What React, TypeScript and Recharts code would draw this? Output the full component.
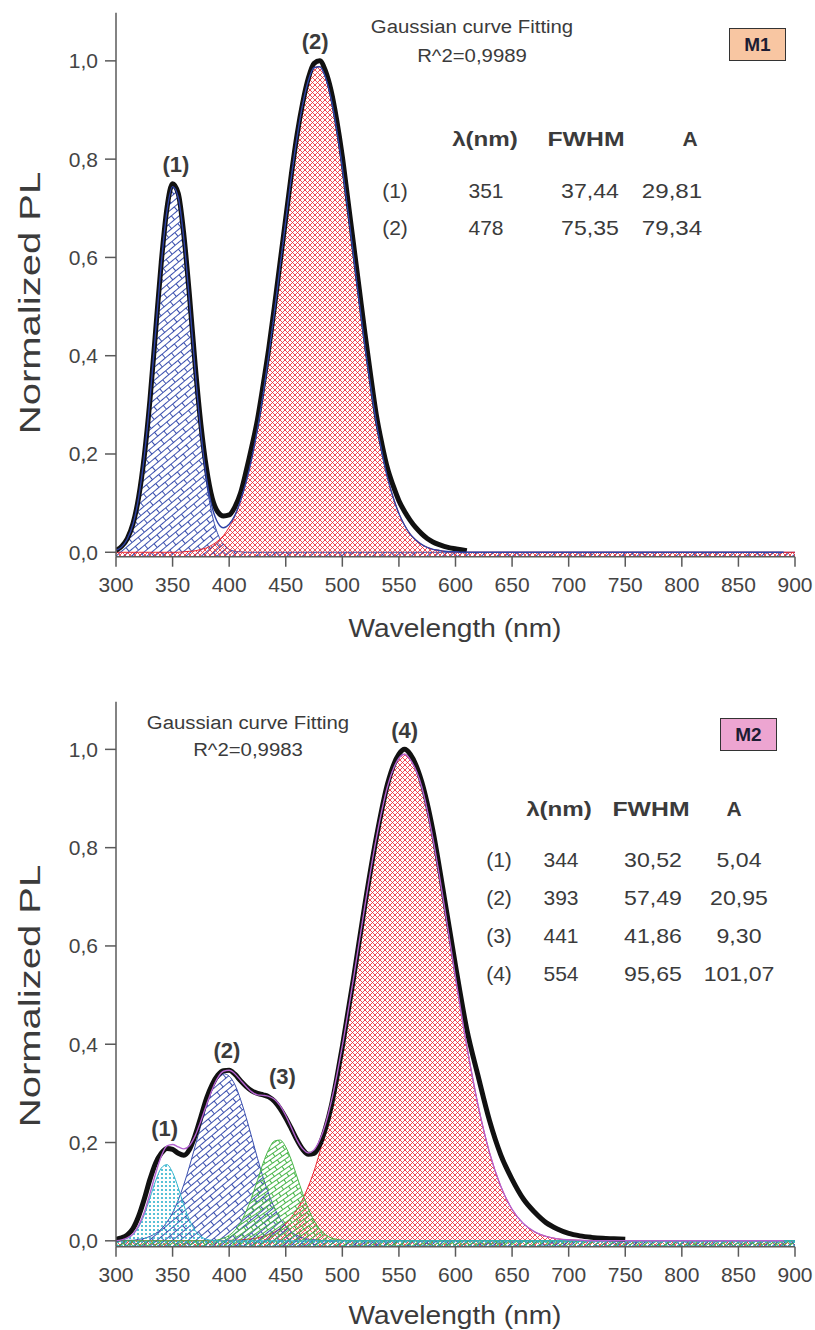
import { ComposedChart, Area, Line, XAxis, YAxis, ReferenceDot } from 'recharts';

const FONT = '"Liberation Sans", Arial, Helvetica, sans-serif';
const INK = '#3b3b3b';
const AXIS = '#5a5a5a';

// ── shared axes ───────────────────────────────────────────────────────────────

const X_TICKS = [300, 350, 400, 450, 500, 550, 600, 650, 700, 750, 800, 850, 900];
const Y_TICKS = [0, 0.2, 0.4, 0.6, 0.8, 1.0];

// ── M1 data ───────────────────────────────────────────────────────────────────

const WL_TOP = [
  300, 305, 310, 315, 320, 325, 330, 335, 340, 345, 350, 355, 360, 365, 370, 375, 380, 385, 390, 395,
  400, 405, 410, 415, 420, 425, 430, 435, 440, 445, 450, 455, 460, 465, 470, 475, 480, 485, 490, 495,
  500, 505, 510, 515, 520, 525, 530, 535, 540, 545, 550, 555, 560, 565, 570, 575, 580, 585, 590, 595,
  600, 605, 610, 615, 620, 650, 700, 750, 800, 850, 890, 900,
];
// peak (1), blue
const P1_TOP = [
  0.004, 0.011, 0.027, 0.057, 0.111, 0.196, 0.311, 0.449, 0.587, 0.694, 0.744, 0.722, 0.635, 0.506, 0.365, 0.238, 0.141, 0.076, 0.037, 0.016,
  0.006, 0.002, 0.001, 0, 0, 0, 0, 0, 0, 0, 0, 0, 0, 0, 0, 0, 0, 0, 0, 0,
  0, 0, 0, 0, 0, 0, 0, 0, 0, 0, 0, 0, 0, 0, 0, 0, 0, 0, 0, 0,
  0, 0, 0, 0, 0, 0, 0, 0, 0, 0, 0, 0,
];
// peak (2), red
const P2_TOP = [
  0, 0, 0, 0, 0, 0, 0, 0, 0, 0, 0, 0, 0.001, 0.002, 0.003, 0.006, 0.009, 0.015, 0.023, 0.034,
  0.051, 0.073, 0.104, 0.143, 0.191, 0.251, 0.321, 0.401, 0.489, 0.582, 0.675, 0.765, 0.845, 0.912, 0.96, 0.986, 0.988, 0.967, 0.923, 0.86,
  0.782, 0.693, 0.601, 0.507, 0.418, 0.337, 0.264, 0.203, 0.151, 0.111, 0.079, 0.055, 0.037, 0.025, 0.016, 0.01, 0.006, 0.004, 0.002, 0.001,
  0.001, 0, 0, 0, 0, 0, 0, 0, 0, 0, 0, 0,
];
// cumulative fit, thin blue
const FIT_TOP = [
  0.004, 0.011, 0.027, 0.057, 0.111, 0.196, 0.311, 0.449, 0.587, 0.694, 0.744, 0.722, 0.636, 0.508, 0.368, 0.244, 0.15, 0.091, 0.06, 0.05,
  0.057, 0.075, 0.105, 0.143, 0.191, 0.251, 0.321, 0.401, 0.489, 0.582, 0.675, 0.765, 0.845, 0.912, 0.96, 0.986, 0.988, 0.967, 0.923, 0.86,
  0.782, 0.693, 0.601, 0.507, 0.418, 0.337, 0.264, 0.203, 0.151, 0.111, 0.079, 0.055, 0.037, 0.025, 0.016, 0.01, 0.006, 0.004, 0.002, 0.001,
  0.001, 0, 0, 0, 0, 0, 0, 0, 0, 0, 0, null,
];
// measured spectrum, thick black
const DATA_TOP = [
  0.004, 0.012, 0.028, 0.058, 0.112, 0.196, 0.31, 0.45, 0.59, 0.7, 0.75, 0.73, 0.645, 0.52, 0.38, 0.26, 0.17, 0.11, 0.082, 0.074,
  0.076, 0.092, 0.12, 0.165, 0.215, 0.27, 0.34, 0.415, 0.5, 0.59, 0.68, 0.77, 0.85, 0.915, 0.965, 0.995, 1.0, 0.98, 0.94, 0.88,
  0.805, 0.715, 0.625, 0.535, 0.445, 0.36, 0.28, 0.22, 0.17, 0.135, 0.105, 0.083, 0.065, 0.05, 0.038, 0.028, 0.021, 0.016, 0.012, 0.009,
  0.007, 0.005, 0.003, null, null, null, null, null, null, null, null, null,
];

// ── M2 data ───────────────────────────────────────────────────────────────────

const WL_BOT = [
  300, 305, 310, 315, 320, 325, 330, 335, 340, 345, 350, 355, 360, 365, 370, 375, 380, 385, 390, 395,
  400, 405, 410, 415, 420, 425, 430, 435, 440, 445, 450, 455, 460, 465, 470, 475, 480, 485, 490, 495,
  500, 510, 520, 530, 540, 550, 555, 560, 570, 580, 590, 600, 610, 620, 630, 640, 650, 660, 670, 680, 690,
  700, 710, 720, 730, 740, 750, 760, 800, 850, 890, 900,
];
// peak (1), cyan dots
const C1_BOT = [
  0, 0.002, 0.005, 0.013, 0.028, 0.053, 0.087, 0.122, 0.148, 0.155, 0.139, 0.108, 0.072, 0.042, 0.021, 0.009, 0.003, 0.001, 0, 0,
  0, 0, 0, 0, 0, 0, 0, 0, 0, 0, 0, 0, 0, 0, 0, 0, 0, 0, 0, 0,
  0, 0, 0, 0, 0, 0, 0, 0, 0, 0, 0, 0, 0, 0, 0, 0, 0, 0, 0, 0, 0,
  0, 0, 0, 0, 0, 0, 0, 0, 0, 0, 0,
];
// peak (2), blue bricks
const C2_BOT = [
  0, 0, 0.001, 0.001, 0.003, 0.005, 0.009, 0.015, 0.024, 0.038, 0.057, 0.083, 0.115, 0.152, 0.193, 0.235, 0.274, 0.307, 0.33, 0.34,
  0.335, 0.318, 0.288, 0.251, 0.21, 0.168, 0.129, 0.095, 0.067, 0.045, 0.029, 0.018, 0.011, 0.006, 0.003, 0.002, 0.001, 0, 0, 0,
  0, 0, 0, 0, 0, 0, 0, 0, 0, 0, 0, 0, 0, 0, 0, 0, 0, 0, 0, 0, 0,
  0, 0, 0, 0, 0, 0, 0, 0, 0, 0, 0,
];
// peak (3), green
const C3_BOT = [
  0, 0, 0, 0, 0, 0, 0, 0, 0, 0, 0, 0, 0, 0, 0, 0, 0, 0, 0.002, 0.005,
  0.011, 0.021, 0.037, 0.06, 0.089, 0.123, 0.158, 0.186, 0.203, 0.205, 0.191, 0.164, 0.13, 0.096, 0.065, 0.041, 0.024, 0.013, 0.006, 0.003,
  0.001, 0, 0, 0, 0, 0, 0, 0, 0, 0, 0, 0, 0, 0, 0, 0, 0, 0, 0, 0, 0,
  0, 0, 0, 0, 0, 0, 0, 0, 0, 0, 0,
];
// peak (4), red
const C4_BOT = [
  0, 0, 0, 0, 0, 0, 0, 0, 0, 0, 0, 0, 0, 0, 0, 0, 0, 0, 0, 0,
  0.001, 0.001, 0.002, 0.003, 0.004, 0.006, 0.009, 0.013, 0.018, 0.025, 0.035, 0.048, 0.064, 0.085, 0.111, 0.142, 0.18, 0.224, 0.275, 0.332,
  0.396, 0.536, 0.683, 0.819, 0.925, 0.982, 0.99, 0.979, 0.925, 0.819, 0.683, 0.536, 0.396, 0.275, 0.18, 0.111, 0.064, 0.035, 0.018, 0.009, 0.004,
  0.002, 0.001, 0, 0, 0, 0, 0, 0, 0, 0, 0,
];
// cumulative fit, thin purple
const FIT_BOT = [
  0, 0.002, 0.006, 0.014, 0.031, 0.058, 0.096, 0.137, 0.172, 0.193, 0.196, 0.191, 0.187, 0.194, 0.214, 0.244, 0.277, 0.308, 0.332, 0.345,
  0.347, 0.34, 0.327, 0.314, 0.303, 0.297, 0.296, 0.294, 0.288, 0.275, 0.255, 0.23, 0.205, 0.187, 0.179, 0.185, 0.205, 0.237, 0.281, 0.335,
  0.397, 0.536, 0.683, 0.819, 0.925, 0.982, 0.99, 0.979, 0.925, 0.819, 0.683, 0.536, 0.396, 0.275, 0.18, 0.111, 0.064, 0.035, 0.018, 0.009, 0.004,
  0.002, 0.001, 0, 0, 0, 0, 0, 0, 0, 0, null,
];
// measured spectrum, thick black
const DATA_BOT = [
  0.003, 0.006, 0.012, 0.025, 0.05, 0.085, 0.125, 0.158, 0.178, 0.188, 0.186, 0.178, 0.174, 0.186, 0.215, 0.252, 0.29, 0.318, 0.337, 0.346,
  0.347, 0.339, 0.326, 0.314, 0.305, 0.3, 0.297, 0.293, 0.284, 0.269, 0.25, 0.228, 0.205, 0.186, 0.176, 0.178, 0.195, 0.228, 0.272, 0.33,
  0.395, 0.536, 0.685, 0.82, 0.93, 0.99, 1.0, 0.99, 0.935, 0.835, 0.7, 0.56, 0.43, 0.335, 0.245, 0.175, 0.125, 0.085, 0.058, 0.037, 0.024,
  0.015, 0.01, 0.007, 0.005, 0.004, 0.003, null, null, null, null, null,
];

// ── fit tables ────────────────────────────────────────────────────────────────

const TOP_ROWS = [
  { id: '(1)', lambda: '351', fwhm: '37,44', area: '29,81' },
  { id: '(2)', lambda: '478', fwhm: '75,35', area: '79,34' },
];
const BOT_ROWS = [
  { id: '(1)', lambda: '344', fwhm: '30,52', area: '5,04' },
  { id: '(2)', lambda: '393', fwhm: '57,49', area: '20,95' },
  { id: '(3)', lambda: '441', fwhm: '41,86', area: '9,30' },
  { id: '(4)', lambda: '554', fwhm: '95,65', area: '101,07' },
];

const topData = WL_TOP.map((wl, i) => ({ wl, p1: P1_TOP[i], p2: P2_TOP[i], fit: FIT_TOP[i], data: DATA_TOP[i] }));
const botData = WL_BOT.map((wl, i) => ({
  wl, c1: C1_BOT[i], c2: C2_BOT[i], c3: C3_BOT[i], c4: C4_BOT[i], fit: FIT_BOT[i], data: DATA_BOT[i],
}));

const fmtY = (v: number) => v.toFixed(1).replace('.', ',');

// ── bits ──────────────────────────────────────────────────────────────────────

function Txt({ x, y, size, bold, sx = 1, rotate = 0, children }: {
  x: number; y: number; size: number; bold?: boolean; sx?: number; rotate?: number; children: React.ReactNode;
}) {
  return (
    <div style={{
      position: 'absolute', left: x, top: y, lineHeight: 1, whiteSpace: 'nowrap',
      transform: `translate(-50%, -50%) rotate(${rotate}deg) scaleX(${sx})`,
      fontFamily: FONT, fontSize: size, fontWeight: bold ? 700 : 400, color: INK,
    }}>
      {children}
    </div>
  );
}

function Tag({ x, y, bg, children }: { x: number; y: number; bg: string; children: React.ReactNode }) {
  return (
    <div style={{
      position: 'absolute', left: x, top: y, width: 55, height: 31, background: bg, border: '1.5px solid #333',
      display: 'flex', alignItems: 'center', justifyContent: 'center',
      fontFamily: FONT, fontWeight: 700, fontSize: 19, color: '#1d1d33',
    }}>
      {children}
    </div>
  );
}

function patterns(p: string) {
  return (
    <defs>
      <pattern id={`${p}-red`} width={5} height={5} patternUnits="userSpaceOnUse">
        <path d="M0,0 L5,5 M5,0 L0,5" stroke="#ec2f38" strokeWidth={0.85} />
      </pattern>
      <pattern id={`${p}-blue`} width={16} height={10} patternUnits="userSpaceOnUse" patternTransform="rotate(-40)">
        <path d="M0,0.5 H16 M0,5.5 H16 M0.5,0.5 V5.5 M8.5,5.5 V10.5" stroke="#3a4fae" strokeWidth={1} fill="none" />
      </pattern>
      <pattern id={`${p}-green`} width={12} height={8} patternUnits="userSpaceOnUse" patternTransform="rotate(-35)">
        <path d="M0,0.5 H12 M0,4.5 H12 M0.5,0.5 V4.5 M6.5,4.5 V8.5" stroke="#47b547" strokeWidth={1} fill="none" />
      </pattern>
      <pattern id={`${p}-cyan`} width={4} height={4} patternUnits="userSpaceOnUse">
        <circle cx={2} cy={2} r={1.1} fill="#2fb2cc" />
      </pattern>
    </defs>
  );
}

function frameAxes(yDomain: [number, number]) {
  const tick = { fontSize: 21, fontFamily: FONT, fill: '#444' };
  return [
    <XAxis key="xb" dataKey="wl" type="number" domain={[300, 900]} ticks={X_TICKS} interval={0} allowDataOverflow
      height={40} tick={tick} tickSize={10} tickMargin={10} stroke={AXIS} strokeWidth={1.5} />,
    <YAxis key="yl" type="number" domain={yDomain} ticks={Y_TICKS} allowDataOverflow width={116}
      tick={tick} tickFormatter={fmtY} tickSize={11} tickMargin={7} stroke={AXIS} strokeWidth={1.5} />,
    <XAxis key="xt" xAxisId="top" orientation="top" type="number" domain={[300, 900]} allowDataOverflow
      height={0} tick={false} tickLine={false} stroke={AXIS} strokeWidth={1.5} />,
    <YAxis key="yr" yAxisId="right" orientation="right" type="number" domain={yDomain} allowDataOverflow
      width={0} tick={false} tickLine={false} stroke={AXIS} strokeWidth={1.5} />,
  ];
}

function peakLabel(key: string, x: number, y: number, text: string) {
  return (
    <ReferenceDot key={key} x={x} y={y} r={0} fill="none" stroke="none"
      label={{ value: text, position: 'center', fontSize: 22, fontWeight: 700, fill: INK, fontFamily: FONT }} />
  );
}

// ── panels ────────────────────────────────────────────────────────────────────

function PanelM1() {
  return (
    <div style={{ position: 'absolute', left: 0, top: 0, width: 815, height: 660 }}>
      <ComposedChart width={815} height={660} data={topData} margin={{ top: 12.7, right: 20, left: 0, bottom: 63.3 }}>
        {patterns('m1')}
        {frameAxes([-0.009, 1.098])}
        <Area type="monotone" dataKey="p1" baseValue="dataMin" stroke="#3a4fae" strokeWidth={1} fill="url(#m1-blue)"
          fillOpacity={1} dot={false} activeDot={false} isAnimationActive={false} />
        <Area type="monotone" dataKey="p2" baseValue="dataMin" stroke="#e8232d" strokeWidth={1} fill="url(#m1-red)"
          fillOpacity={1} dot={false} activeDot={false} isAnimationActive={false} />
        <Line type="monotone" dataKey="data" stroke="#111" strokeWidth={5} dot={false} activeDot={false} isAnimationActive={false} />
        <Line type="monotone" dataKey="fit" stroke="#2f43a6" strokeWidth={1.4} dot={false} activeDot={false} isAnimationActive={false} />
        {peakLabel('l1', 353, 0.79, '(1)')}
        {peakLabel('l2', 476, 1.04, '(2)')}
      </ComposedChart>

      <Txt x={472} y={27} size={18} sx={1.13}>Gaussian curve Fitting</Txt>
      <Txt x={472} y={56} size={18} sx={1.13}>R^2=0,9989</Txt>
      <Tag x={729} y={28} bg="#f8c6a2">M1</Tag>

      <Txt x={485} y={138} size={21} bold sx={1.15}>λ(nm)</Txt>
      <Txt x={586} y={138} size={21} bold sx={1.18}>FWHM</Txt>
      <Txt x={690} y={138} size={21} bold>A</Txt>
      {TOP_ROWS.map((r, i) => (
        <div key={r.id}>
          <Txt x={395} y={190 + i * 37} size={21}>{r.id}</Txt>
          <Txt x={486} y={190 + i * 37} size={21}>{r.lambda}</Txt>
          <Txt x={590} y={190 + i * 37} size={21} sx={1.1}>{r.fwhm}</Txt>
          <Txt x={672} y={190 + i * 37} size={21} sx={1.15}>{r.area}</Txt>
        </div>
      ))}

      <Txt x={30} y={303} size={29} rotate={-90} sx={1.38}>Normalized PL</Txt>
      <Txt x={455} y={628} size={26} sx={1.08}>Wavelength (nm)</Txt>
    </div>
  );
}

function PanelM2() {
  return (
    <div style={{ position: 'absolute', left: 0, top: 660, width: 815, height: 670 }}>
      <ComposedChart width={815} height={670} data={botData} margin={{ top: 41.7, right: 20, left: 0, bottom: 43.3 }}>
        {patterns('m2')}
        {frameAxes([-0.012, 1.097])}
        <Area type="monotone" dataKey="c4" baseValue="dataMin" stroke="#e8232d" strokeWidth={1} fill="url(#m2-red)"
          fillOpacity={1} dot={false} activeDot={false} isAnimationActive={false} />
        <Area type="monotone" dataKey="c2" baseValue="dataMin" stroke="#3a4fae" strokeWidth={1} fill="url(#m2-blue)"
          fillOpacity={1} dot={false} activeDot={false} isAnimationActive={false} />
        <Area type="monotone" dataKey="c3" baseValue="dataMin" stroke="#47b547" strokeWidth={1} fill="url(#m2-green)"
          fillOpacity={1} dot={false} activeDot={false} isAnimationActive={false} />
        <Area type="monotone" dataKey="c1" baseValue="dataMin" stroke="#2fb2cc" strokeWidth={1} fill="url(#m2-cyan)"
          fillOpacity={1} dot={false} activeDot={false} isAnimationActive={false} />
        <Line type="monotone" dataKey="data" stroke="#111" strokeWidth={5} dot={false} activeDot={false} isAnimationActive={false} />
        <Line type="monotone" dataKey="fit" stroke="#b462d0" strokeWidth={1.4} dot={false} activeDot={false} isAnimationActive={false} />
        {peakLabel('l1', 343, 0.229, '(1)')}
        {peakLabel('l2', 398, 0.388, '(2)')}
        {peakLabel('l3', 447, 0.334, '(3)')}
        {peakLabel('l4', 555, 1.039, '(4)')}
      </ComposedChart>

      <Txt x={248} y={63} size={18} sx={1.13}>Gaussian curve Fitting</Txt>
      <Txt x={248} y={90} size={18} sx={1.13}>R^2=0,9983</Txt>
      <Tag x={720} y={58} bg="#eda5d1">M2</Tag>

      <Txt x={559} y={148} size={21} bold sx={1.15}>λ(nm)</Txt>
      <Txt x={651} y={148} size={21} bold sx={1.18}>FWHM</Txt>
      <Txt x={734} y={148} size={21} bold>A</Txt>
      {BOT_ROWS.map((r, i) => (
        <div key={r.id}>
          <Txt x={499} y={199 + i * 38} size={21}>{r.id}</Txt>
          <Txt x={561} y={199 + i * 38} size={21}>{r.lambda}</Txt>
          <Txt x={653} y={199 + i * 38} size={21} sx={1.1}>{r.fwhm}</Txt>
          <Txt x={739} y={199 + i * 38} size={21} sx={1.1}>{r.area}</Txt>
        </div>
      ))}

      <Txt x={30} y={336} size={29} rotate={-90} sx={1.38}>Normalized PL</Txt>
      <Txt x={455} y={655} size={26} sx={1.08}>Wavelength (nm)</Txt>
    </div>
  );
}

export default function App() {
  return (
    <div style={{ position: 'absolute', left: 0, top: 0, width: 815, height: 1330, background: '#fff' }}>
      <PanelM1 />
      <PanelM2 />
    </div>
  );
}
